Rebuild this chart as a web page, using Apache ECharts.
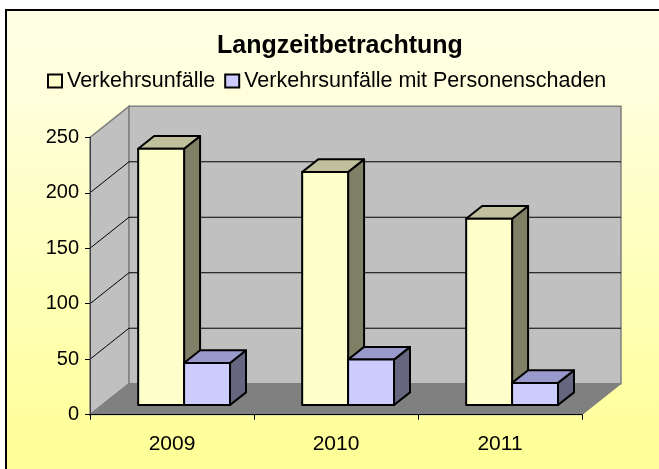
<!DOCTYPE html>
<html>
<head>
<meta charset="utf-8">
<title>Langzeitbetrachtung</title>
<script src="https://cdn.jsdelivr.net/npm/echarts@6/dist/echarts.min.js"></script>
<style>
  html, body { margin: 0; padding: 0; background: #fff; }
  #chart { width: 659px; height: 469px; }
</style>
</head>
<body>
<div id="chart"></div>
<script>
// data
const years = ['2009', '2010', '2011'];
const unfaelle = [231, 210, 168];
const personenschaden = [38, 41, 20];
const yTicks = [0, 50, 100, 150, 200, 250];

const FONT = '"Liberation Sans", Arial, sans-serif';
// fake 3d: depth of the whole box and of the bars, in px
const DX = 39, DY = -31;
const BAR_OFF = 0.31, BAR_DEPTH = 0.41, BAR_W = 0.28;

const chart = echarts.init(document.getElementById('chart'));

function renderFrame(params, api) {
  const cs = params.coordSys;
  const L = cs.x, R = cs.x + cs.width;
  const y0 = api.coord([0, yTicks[0]])[1];
  const yTop = api.coord([0, yTicks[yTicks.length - 1]])[1];
  const wall = { fill: '#C0C0C0', stroke: '#808080', lineWidth: 1.5 };
  const children = [
    { type: 'polygon', shape: { points: [[L, y0], [L, yTop], [L + DX, yTop + DY], [L + DX, y0 + DY]] }, style: wall },
    { type: 'polygon', shape: { points: [[L + DX, yTop + DY], [R + DX, yTop + DY], [R + DX, y0 + DY], [L + DX, y0 + DY]] }, style: wall },
    { type: 'polygon', shape: { points: [[L, y0], [R, y0], [R + DX, y0 + DY], [L + DX, y0 + DY]] }, style: { fill: '#808080', stroke: '#808080', lineWidth: 1 } }
  ];
  yTicks.slice(1, -1).forEach(v => {
    const y = api.coord([0, v])[1];
    children.push({
      type: 'polyline',
      shape: { points: [[L, y], [L + DX, y + DY], [R + DX, y + DY]] },
      style: { stroke: '#000', lineWidth: 1, fill: null }
    });
  });
  return { type: 'group', children };
}

function barRenderer(side, front, topC, sideC) {
  return function (params, api) {
    const i = api.value(0), v = api.value(1);
    const top = api.coord([i, v]);
    const base = api.coord([i, 0]);
    const bw = api.size([1, 0])[0] * BAR_W;
    const ox = DX * BAR_OFF, oy = DY * BAR_OFF;
    const dx = DX * BAR_DEPTH, dy = DY * BAR_DEPTH;
    const x0 = base[0] + ox + side * bw, x1 = x0 + bw;
    const yb = base[1] + oy, yt = top[1] + oy;
    const st = (c) => ({ fill: c, stroke: '#000', lineWidth: 2, lineJoin: 'round' });
    return {
      type: 'group',
      children: [
        { type: 'polygon', shape: { points: [[x1, yt], [x1 + dx, yt + dy], [x1 + dx, yb + dy], [x1, yb]] }, style: st(sideC) },
        { type: 'polygon', shape: { points: [[x0, yt], [x0 + dx, yt + dy], [x1 + dx, yt + dy], [x1, yt]] }, style: st(topC) },
        { type: 'polygon', shape: { points: [[x0, yt], [x1, yt], [x1, yb], [x0, yb]] }, style: st(front) }
      ]
    };
  };
}

const option = {
  backgroundColor: '#fff',
  animation: false,
  textStyle: { fontFamily: FONT },
  graphic: [{
    type: 'rect',
    z: -10,
    shape: { x: 6, y: 10, width: 720, height: 520 },
    style: {
      fill: {
        type: 'linear', x: 0, y: 0, x2: 0, y2: 1,
        colorStops: [
          { offset: 0, color: '#FFFFE6' },
          { offset: 0.12, color: '#FFFFE0' },
          { offset: 0.85, color: '#FFFF99' },
          { offset: 1, color: '#FFFF99' }
        ]
      },
      stroke: '#000',
      lineWidth: 2
    }
  }],
  title: {
    text: 'Langzeitbetrachtung',
    left: 217,
    top: 34,
    padding: 0,
    textStyle: { fontFamily: FONT, fontSize: 25, fontWeight: 'bold', color: '#000' }
  },
  legend: {
    left: 47,
    top: 70,
    padding: 0,
    itemGap: 9,
    itemWidth: 14,
    itemHeight: 13,
    icon: 'rect',
    textStyle: { fontFamily: FONT, fontSize: 21.5, color: '#000', lineHeight: 21 },
    data: [
      { name: 'Verkehrsunfälle', itemStyle: { color: '#FFFFCC', borderColor: '#000', borderWidth: 2 } },
      { name: 'Verkehrsunfälle mit Personenschaden', itemStyle: { color: '#CCCCFF', borderColor: '#000', borderWidth: 2 } }
    ]
  },
  grid: { left: 90, right: 77, top: 137.3, bottom: 54.3 },
  xAxis: {
    type: 'category',
    data: years,
    z: 5,
    axisLine: { lineStyle: { color: '#000', width: 1 } },
    axisTick: { show: true, length: 5, lineStyle: { color: '#000' } },
    axisLabel: { fontFamily: FONT, fontSize: 21, color: '#000', margin: 19 },
    splitLine: { show: false }
  },
  yAxis: {
    type: 'value',
    min: yTicks[0],
    max: yTicks[yTicks.length - 1],
    interval: 50,
    z: 5,
    axisLine: { show: true, lineStyle: { color: '#404040', width: 1 } },
    axisTick: { show: true, length: 5, lineStyle: { color: '#000' } },
    axisLabel: { fontFamily: FONT, fontSize: 20, color: '#000', margin: 11 },
    splitLine: { show: false }
  },
  series: [
    {
      name: 'frame',
      type: 'custom',
      z: 1,
      silent: true,
      renderItem: renderFrame,
      data: [[0, 0]],
      encode: { x: 0, y: 1 }
    },
    {
      name: 'Verkehrsunfälle',
      type: 'custom',
      z: 2,
      itemStyle: { color: '#FFFFCC' },
      renderItem: barRenderer(-1, '#FFFFCC', '#C0C09C', '#808066'),
      data: unfaelle.map((v, i) => [i, v]),
      encode: { x: 0, y: 1 }
    },
    {
      name: 'Verkehrsunfälle mit Personenschaden',
      type: 'custom',
      z: 3,
      itemStyle: { color: '#CCCCFF' },
      renderItem: barRenderer(0, '#CCCCFF', '#9999CC', '#666680'),
      data: personenschaden.map((v, i) => [i, v]),
      encode: { x: 0, y: 1 }
    }
  ]
};

chart.setOption(option);
</script>
</body>
</html>
